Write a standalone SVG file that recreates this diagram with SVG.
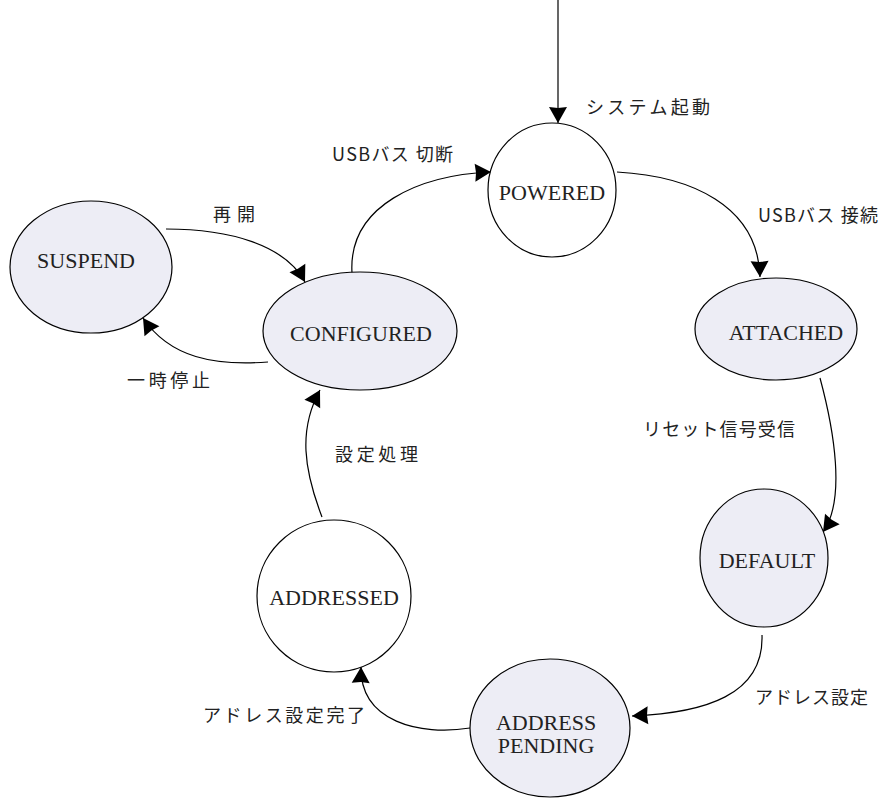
<svg xmlns="http://www.w3.org/2000/svg" width="884" height="799" viewBox="0 0 884 799">
  <style>
    .state { stroke: #000; stroke-width: 1.2; }
    .filled { fill: #ededf5; }
    .plain { fill: #fff; }
    .name { font-family: "Liberation Serif", "Times New Roman", serif; font-size: 22px; fill: #222; text-anchor: middle; }
    .edge { fill: none; stroke: #000; stroke-width: 1.2; marker-end: url(#head); }
    .label { font-family: "Noto Sans CJK JP", "Noto Sans", sans-serif; font-size: 18px; fill: #222; }
  </style>
  <defs>
    <marker id="head" markerUnits="userSpaceOnUse" markerWidth="20" markerHeight="20" refX="16" refY="9" orient="auto" overflow="visible">
      <path d="M0,0 L16,9 L0,18 L1,9 z" fill="#000"/>
    </marker>
  </defs>
  <rect width="884" height="799" fill="#fff"/>

  <!-- transitions -->
  <g id="connectors">
    <path class="edge" d="M558,0 L558,123"/>
    <path class="edge" d="M617,172 C690,176 758,205 760,277"/>
    <path class="edge" d="M820,378 C834,430 846,500 823,532"/>
    <path class="edge" d="M762,635 C764,695 705,713 632,716"/>
    <path class="edge" d="M470,728 C420,736 360,722 361,667"/>
    <path class="edge" d="M322,517 C304,470 298,430 320,390"/>
    <path class="edge" d="M268,362 C215,366 170,358 143,318"/>
    <path class="edge" d="M166,229 C230,229 285,245 305,282"/>
    <path class="edge" d="M352,273 C348,205 420,175 491,172"/>
  </g>

  <!-- transition labels -->
  <g id="labels">
    <text class="label" x="586" y="114" textLength="124" lengthAdjust="spacing">システム起動</text>
    <text class="label" x="332" y="161" textLength="121" lengthAdjust="spacing">USBバス 切断</text>
    <text class="label" x="758" y="222" textLength="120" lengthAdjust="spacing">USBバス 接続</text>
    <text class="label" x="213" y="221" textLength="42" lengthAdjust="spacing">再開</text>
    <text class="label" x="127" y="387" textLength="83" lengthAdjust="spacing">一時停止</text>
    <text class="label" x="643" y="436" textLength="152" lengthAdjust="spacing">リセット信号受信</text>
    <text class="label" x="335" y="461" textLength="83" lengthAdjust="spacing">設定処理</text>
    <text class="label" x="755" y="704" textLength="113" lengthAdjust="spacing">アドレス設定</text>
    <text class="label" x="203" y="722" textLength="162" lengthAdjust="spacing">アドレス設定完了</text>
  </g>

  <!-- states -->
  <g id="powered">
    <ellipse class="state plain" cx="552" cy="190" rx="64" ry="67"/>
    <text class="name" x="552" y="200">POWERED</text>
  </g>
  <g id="attached">
    <ellipse class="state filled" cx="776" cy="329" rx="81" ry="51"/>
    <text class="name" x="786" y="340">ATTACHED</text>
  </g>
  <g id="default">
    <ellipse class="state filled" cx="764" cy="558" rx="64" ry="69"/>
    <text class="name" x="767" y="568">DEFAULT</text>
  </g>
  <g id="address-pending">
    <ellipse class="state filled" cx="550" cy="728" rx="80" ry="69"/>
    <text class="name" x="546" y="730">ADDRESS</text>
    <text class="name" x="546" y="753">PENDING</text>
  </g>
  <g id="addressed">
    <ellipse class="state plain" cx="334" cy="596" rx="77" ry="76"/>
    <text class="name" x="334" y="605">ADDRESSED</text>
  </g>
  <g id="configured">
    <ellipse class="state filled" cx="360" cy="331" rx="97" ry="59"/>
    <text class="name" x="361" y="341">CONFIGURED</text>
  </g>
  <g id="suspend">
    <ellipse class="state filled" cx="91" cy="267" rx="81" ry="66"/>
    <text class="name" x="86" y="268">SUSPEND</text>
  </g>
</svg>
